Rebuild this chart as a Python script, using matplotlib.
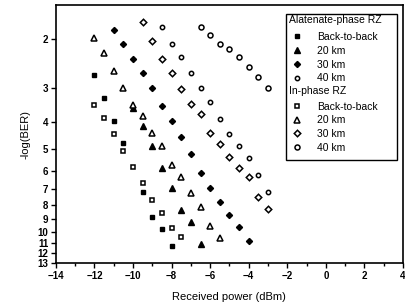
import matplotlib
matplotlib.use('Agg')
import matplotlib.pyplot as plt
from matplotlib.ticker import FixedLocator, FixedFormatter, NullLocator, MultipleLocator
from matplotlib.patches import Rectangle

plt.rcParams['font.family'] = ['Liberation Sans', 'DejaVu Sans']

# ---- data (received power dBm, -log(BER)) ----
alt_b2b_x = [-12, -11.5, -11, -10.5, -9.5, -9, -8.5, -8]
alt_b2b_y = [2.70, 3.27, 3.97, 4.76, 7.18, 8.85, 9.79, 11.27]
alt_20_x = [-10, -9.5, -9, -8.5, -8, -7.5, -7, -6.5]
alt_20_y = [3.55, 4.14, 4.89, 5.88, 6.95, 8.35, 9.23, 11.1]
alt_30_x = [-11, -10.5, -10, -9.5, -9, -8.5, -8, -7.5, -7, -6.5, -6, -5.5, -5, -4.5, -4]
alt_30_y = [1.85, 2.07, 2.35, 2.65, 3.01, 3.50, 3.97, 4.54, 5.22, 6.12, 6.95, 7.82, 8.71, 9.62, 10.8]
alt_40_x = [-8.5, -8, -7.5, -7, -6.5, -6, -5.5, -5, -4.5, -4, -3.5, -3]
alt_40_y = [1.81, 2.07, 2.31, 2.64, 3.0, 3.39, 3.90, 4.43, 4.89, 5.41, 6.24, 7.17]

in_b2b_x = [-12, -11.5, -11, -10.5, -10, -9.5, -9, -8.5, -8, -7.5]
in_b2b_y = [3.47, 3.87, 4.43, 5.11, 5.84, 6.67, 7.67, 8.57, 9.71, 10.47]
in_20_x = [-12, -11.5, -11, -10.5, -10, -9.5, -9, -8.5, -8, -7.5, -7, -6.5, -6, -5.5]
in_20_y = [1.97, 2.25, 2.61, 3.01, 3.47, 3.80, 4.39, 4.89, 5.73, 6.33, 7.24, 8.15, 9.56, 10.55]
in_30_x = [-9.5, -9, -8.5, -8, -7.5, -7, -6.5, -6, -5.5, -5, -4.5, -4, -3.5, -3]
in_30_y = [1.73, 2.02, 2.36, 2.65, 3.04, 3.44, 3.74, 4.36, 4.81, 5.36, 5.87, 6.34, 7.48, 8.28]
in_40_x = [-6.5, -6, -5.5, -5, -4.5, -4, -3.5, -3]
in_40_y = [1.80, 1.92, 2.07, 2.17, 2.32, 2.53, 2.75, 3.01]

y_ticks = [2, 3, 4, 5, 6, 7, 8, 9, 10, 11, 12, 13]
labels_alt = ['Back-to-back', '20 km', '30 km', '40 km']
labels_in = ['Back-to-back', '20 km', '30 km', '40 km']
header_alt = 'Alatenate-phase RZ'
header_in = 'In-phase RZ'

fig = plt.figure(figsize=(4.05, 3.06), dpi=100)
ax = fig.add_axes([0.138, 0.1405, 0.857, 0.843])

kw_f = dict(linestyle='none', color='black', markeredgecolor='black')
kw_h = dict(linestyle='none', markerfacecolor='white', markeredgecolor='black', markeredgewidth=1.1)

h1, = ax.plot(alt_b2b_x, alt_b2b_y, marker='s', markersize=3.4, **kw_f)
h2, = ax.plot(alt_20_x, alt_20_y, marker='^', markersize=4.3, **kw_f)
h3, = ax.plot(alt_30_x, alt_30_y, marker='D', markersize=3.1, **kw_f)
h4, = ax.plot(alt_40_x, alt_40_y, marker='o', markersize=3.1, **kw_h)
g1, = ax.plot(in_b2b_x, in_b2b_y, marker='s', markersize=3.3, **kw_h)
g2, = ax.plot(in_20_x, in_20_y, marker='^', markersize=4.3, **kw_h)
g3, = ax.plot(in_30_x, in_30_y, marker='D', markersize=3.3, **kw_h)
g4, = ax.plot(in_40_x, in_40_y, marker='o', markersize=3.6, **kw_h)

ax.set_yscale('log')
ax.set_ylim(13, 1.5)
ax.yaxis.set_major_locator(FixedLocator(y_ticks))
ax.yaxis.set_major_formatter(FixedFormatter([str(v) for v in y_ticks]))
ax.yaxis.set_minor_locator(NullLocator())
ax.set_xlim(-14, 4)
ax.xaxis.set_major_locator(MultipleLocator(2))
ax.xaxis.set_minor_locator(MultipleLocator(1))

ax.tick_params(which='both', direction='out', width=1)
ax.tick_params(which='major', length=3.5, labelsize=7, pad=2)
ax.tick_params(which='minor', length=2)
for lab in ax.get_xticklabels() + ax.get_yticklabels():
    lab.set_fontweight('bold')
for s in ax.spines.values():
    s.set_linewidth(1.2)

ax.set_xlabel('Received power (dBm)', fontsize=8, labelpad=8)
ax.set_ylabel('-log(BER)', fontsize=8, labelpad=5)

# legend
ax.add_patch(Rectangle((0.663, 0.399), 0.320, 0.566, transform=ax.transAxes,
                       fill=False, edgecolor='black', linewidth=1.0, zorder=5))
ax.text(0.671, 0.942, header_alt, transform=ax.transAxes, fontsize=7.5, va='center', ha='left')
ax.text(0.671, 0.667, header_in, transform=ax.transAxes, fontsize=7.5, va='center', ha='left')
leg_kw = dict(loc='upper left', frameon=False, fontsize=7.5, borderpad=0, borderaxespad=0,
              labelspacing=0.36, handlelength=1.0, handletextpad=1.4, numpoints=1)
leg1 = ax.legend([h1, h2, h3, h4], labels_alt, bbox_to_anchor=(0.680, 0.895), **leg_kw)
ax.add_artist(leg1)
leg2 = ax.legend([g1, g2, g3, g4], labels_in, bbox_to_anchor=(0.680, 0.626), **leg_kw)

fig.savefig('out.png', dpi=100)
